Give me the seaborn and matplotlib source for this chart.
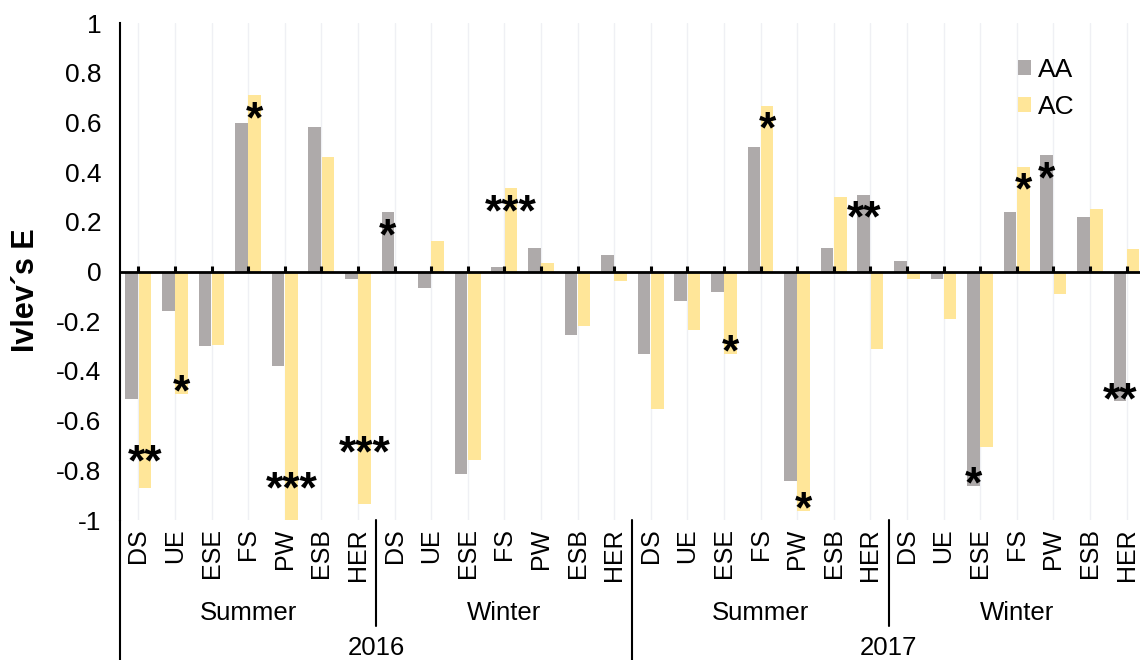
import numpy as np
import pandas as pd
import matplotlib
matplotlib.use("Agg")
import matplotlib.pyplot as plt
import matplotlib.transforms as mtransforms
from matplotlib.lines import Line2D
import seaborn as sns

# ---- data -----------------------------------------------------------------
years = ["2016", "2017"]
seasons = ["Summer", "Winter"]
sites = ["DS", "UE", "ESE", "FS", "PW", "ESB", "HER"]
series = ["AA", "AC"]

aa_2016_summer = [-0.513, -0.157, -0.301, 0.599, -0.380, 0.584, -0.028]
ac_2016_summer = [-0.870, -0.491, -0.294, 0.710, -1.000, 0.462, -0.937]
aa_2016_winter = [0.240, -0.067, -0.816, 0.020, 0.095, -0.254, 0.068]
ac_2016_winter = [0.000, 0.125, -0.757, 0.336, 0.035, -0.219, -0.039]
aa_2017_summer = [-0.331, -0.119, -0.080, 0.503, -0.843, 0.097, 0.309]
ac_2017_summer = [-0.552, -0.236, -0.330, 0.667, -0.962, 0.302, -0.313]
aa_2017_winter = [0.043, -0.028, -0.862, 0.240, 0.469, 0.219, -0.522]
ac_2017_winter = [-0.028, -0.190, -0.707, 0.423, -0.091, 0.251, 0.093]

# significance marks per bar
sig_aa_2016_summer = ["", "", "", "", "", "", ""]
sig_ac_2016_summer = ["**", "*", "", "*", "***", "", "***"]
sig_aa_2016_winter = ["*", "", "", "", "", "", ""]
sig_ac_2016_winter = ["", "", "", "***", "", "", ""]
sig_aa_2017_summer = ["", "", "", "", "", "", "**"]
sig_ac_2017_summer = ["", "", "*", "*", "*", "", ""]
sig_aa_2017_winter = ["", "", "*", "", "*", "", "**"]
sig_ac_2017_winter = ["", "", "", "*", "", "", ""]

values = {
    ("2016", "Summer"): (aa_2016_summer, ac_2016_summer),
    ("2016", "Winter"): (aa_2016_winter, ac_2016_winter),
    ("2017", "Summer"): (aa_2017_summer, ac_2017_summer),
    ("2017", "Winter"): (aa_2017_winter, ac_2017_winter),
}
marks = {
    ("2016", "Summer"): (sig_aa_2016_summer, sig_ac_2016_summer),
    ("2016", "Winter"): (sig_aa_2016_winter, sig_ac_2016_winter),
    ("2017", "Summer"): (sig_aa_2017_summer, sig_ac_2017_summer),
    ("2017", "Winter"): (sig_aa_2017_winter, sig_ac_2017_winter),
}

palette = {"AA": "#AEAAAA", "AC": "#FFE699"}

# ---- long-form table ------------------------------------------------------
rows, keys, tick_labels, sig_rows = [], [], [], []
for yr in years:
    for se in seasons:
        aa, ac = values[(yr, se)]
        saa, sac = marks[(yr, se)]
        for i, site in enumerate(sites):
            key = f"{yr} {se} {site}"
            keys.append(key)
            tick_labels.append(site)
            rows.append((key, "AA", aa[i]))
            rows.append((key, "AC", ac[i]))
            sig_rows.append((key, "AA", aa[i], saa[i]))
            sig_rows.append((key, "AC", ac[i], sac[i]))
df = pd.DataFrame(rows, columns=["group", "index", "E"])

# ---- figure ---------------------------------------------------------------
sns.set_style("white")
plt.rcParams["font.family"] = ["Liberation Sans", "DejaVu Sans"]
plt.rcParams["axes.unicode_minus"] = False
for k in ["text.color", "axes.labelcolor", "xtick.color", "ytick.color"]:
    plt.rcParams[k] = "black"

W, H = 1140, 660
fig = plt.figure(figsize=(W / 100, H / 100), dpi=100)
ax = fig.add_axes([120 / W, 140 / H, 1020 / W, 496.7 / H])

sns.barplot(data=df, x="group", y="E", hue="index", order=keys,
            hue_order=series, palette=palette, saturation=1,
            width=0.72, gap=0.04, errorbar=None, linewidth=0,
            ax=ax, zorder=2)

n = len(keys)
ax.set_xlim(-0.5, -0.5 + 1020 / 36.6)
ax.set_ylim(-1, 1)

# vertical light gridlines at every category
ax.set_axisbelow(True)
ax.grid(axis="x", color="#EFF0F4", linewidth=1.0, zorder=0)
ax.grid(axis="y", visible=False)

# spines
for s in ["top", "right", "bottom"]:
    ax.spines[s].set_visible(False)
ax.spines["left"].set_linewidth(1.5)
ax.spines["left"].set_color("black")

# y axis
yt = np.round(np.arange(-1, 1.0001, 0.2), 1)
ax.set_yticks(yt)
ax.set_yticklabels(["0" if abs(t) < 1e-9 else f"{t:g}" for t in yt], fontsize=19)
ax.tick_params(axis="y", direction="inout", length=11, width=1.4, pad=8,
               colors="black")
ax.set_ylabel("")
fig.text(26 / W, 1 - 290 / H, "Ivlev\u00b4s E", rotation=90, fontsize=22,
         fontweight="bold", ha="center", va="center", color="black")

# x axis: category labels at the bottom, axis line at zero
ax.set_xticks(range(n))
ax.set_xticklabels(tick_labels, rotation=90, fontsize=18)
ax.tick_params(axis="x", length=0, pad=6, colors="black")
ax.set_xlabel("")
ax.axhline(0, color="black", linewidth=2.0, zorder=4)
ax.vlines(range(n), 0, 0.024, color="black", linewidth=2.2, zorder=4)

# hierarchical category axis below the labels
trans = mtransforms.blended_transform_factory(ax.transData, fig.transFigure)
y_axis_bottom = 140 / H
for x0, y_end in [(-0.5, 0.0), (6.5, 1 - 626 / H), (13.5, 0.0), (20.5, 1 - 626 / H)]:
    fig.add_artist(Line2D([x0, x0], [y_axis_bottom, y_end], transform=trans,
                          color="black", linewidth=1.5, clip_on=False))
for gi, (yr, se) in enumerate([(y, s) for y in years for s in seasons]):
    ax.text(gi * 7 + 3, 1 - 620 / H, se, transform=trans, ha="center",
            va="baseline", fontsize=18.5)
for yi, yr in enumerate(years):
    ax.text(yi * 14 + 6.5, 1 - 655 / H, yr, transform=trans, ha="center",
            va="baseline", fontsize=18.5)

# significance marks near bar ends
star_fs = 32
extra_inset = {
    ("2016 Summer DS", "AC"): 0.10,
    ("2016 Summer PW", "AC"): 0.12,
    ("2016 Summer HER", "AC"): 0.20,
}
offsets = {"AA": -0.18, "AC": 0.18}
for key, ser, v, txt in sig_rows:
    if not txt:
        continue
    xi = keys.index(key) + offsets[ser]
    inset = 0.05 + extra_inset.get((key, ser), 0.0)
    yc = v - np.sign(v) * inset
    ax.annotate(txt, xy=(xi, yc), xytext=(0, -0.55 * star_fs),
                textcoords="offset points", ha="center", va="baseline",
                fontsize=star_fs, fontweight="bold", color="black", zorder=5,
                annotation_clip=False)

# legend
handles, labels = ax.get_legend_handles_labels()
ax.legend(handles, labels, loc="upper left",
          bbox_to_anchor=(1018 / W, 1 - 58 / H), bbox_transform=fig.transFigure,
          frameon=False, fontsize=19, handlelength=0.5, handleheight=0.5,
          handletextpad=0.25, labelspacing=0.5, borderpad=0, borderaxespad=0)

fig.savefig("out.png", dpi=100)
